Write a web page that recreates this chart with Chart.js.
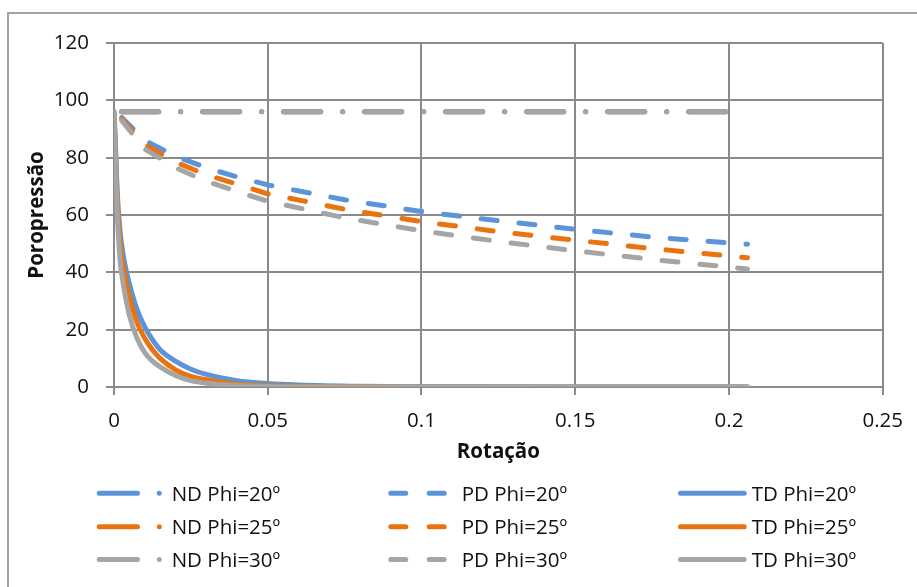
<!DOCTYPE html>
<html><head><meta charset="utf-8">
<script src="https://cdn.jsdelivr.net/npm/chart.js@4"></script>
<style>
html,body{margin:0;padding:0;background:#fff;overflow:hidden;}
#wrap{position:relative;width:917px;height:587px;overflow:hidden;}
#frame{position:absolute;left:7px;top:12px;width:1000px;height:700px;border-left:2px solid #a3a3a3;border-top:2px solid #a3a3a3;}
canvas{position:absolute;left:0;top:0;}
#legend{position:absolute;left:0;top:0;}
</style></head><body>
<div id="wrap"><div id="frame"></div><canvas id="c" width="917" height="587"></canvas><svg id="legend" width="917" height="587" xmlns="http://www.w3.org/2000/svg"></svg></div>
<script>
// ---------- data ----------
const xTickLabels = ['0', '0.05', '0.1', '0.15', '0.2', '0.25'];
const yTickLabels = ['0', '20', '40', '60', '80', '100', '120'];
const xTitle = 'Rotação';
const yTitle = 'Poropressão';

const ndX = [0.0025, 0.2];
const nd20 = [96, 96];
const nd25 = [96, 96];
const nd30 = [96, 96];

const pdX  = [0.0025, 0.01, 0.02, 0.03, 0.04, 0.05, 0.075, 0.1, 0.125, 0.15, 0.175, 0.206];
const pd20 = [94, 86, 80.5, 76.5, 73.3, 70.5, 65.3, 61.2, 58, 55, 52.3, 49.8];
const pd25 = [93.5, 84.5, 78.5, 74, 70.8, 67.4, 62, 57.7, 54.2, 51.2, 48.3, 45.1];
const pd30 = [93, 83, 76.5, 71.8, 68.2, 64.8, 59, 54.5, 50.8, 47.5, 44.5, 41.2];

const tdX  = [0, 0.0005, 0.001, 0.002, 0.003, 0.004, 0.005, 0.0075, 0.01, 0.0125, 0.015, 0.02, 0.025, 0.03, 0.04, 0.05, 0.06, 0.08, 0.1, 0.15, 0.206];
const td20 = [96, 84, 69, 54, 46, 40.5, 36, 27, 21, 16.5, 13, 9, 6.2, 4.4, 2.2, 1.2, 0.7, 0.25, 0.1, 0, 0];
const td25 = [96, 82, 66, 50, 42, 36, 31.5, 22.5, 17, 13, 10, 6, 3.7, 2.5, 1, 0.5, 0.3, 0.1, 0, 0, 0];
const td30 = [96, 80, 62, 44, 36, 30, 25, 17, 12, 9, 7, 4, 2.2, 1.3, 0.5, 0.2, 0.1, 0, 0, 0, 0];

const seriesNames = ['ND Phi=20º', 'PD Phi=20º', 'TD Phi=20º',
                     'ND Phi=25º', 'PD Phi=25º', 'TD Phi=25º',
                     'ND Phi=30º', 'PD Phi=30º', 'TD Phi=30º'];

// ---------- styles ----------
const colors = ['#5b94d8', '#e9730f', '#a5a5a5'];
const FONT = '"Open Sans", "DejaVu Sans", sans-serif';
const FS = 20.5;
const TEXT = '#111';
const GRID = '#8a8a8a';
const dashFor = { ND: [37, 22, 0.01, 22], PD: [16, 22], TD: [] };

const seriesData = [
  [ndX, nd20], [pdX, pd20], [tdX, td20],
  [ndX, nd25], [pdX, pd25], [tdX, td25],
  [ndX, nd30], [pdX, pd30], [tdX, td30]
];

const datasets = seriesData.map(([xs, ys], i) => {
  const type = seriesNames[i].slice(0, 2);
  const col = colors[Math.floor(i / 3)];
  return {
    label: seriesNames[i],
    data: xs.map((x, k) => ({ x: x, y: ys[k] })),
    showLine: true,
    borderColor: col,
    backgroundColor: col,
    borderWidth: 5,
    borderDash: dashFor[type],
    borderCapStyle: 'round',
    borderJoinStyle: 'round',
    pointRadius: 0,
    pointHoverRadius: 0,
    cubicInterpolationMode: type === 'TD' ? 'monotone' : 'default',
    tension: 0,
    fill: false,
    order: seriesNames.length - i
  };
});

Chart.defaults.font.family = FONT;
Chart.defaults.color = TEXT;

new Chart(document.getElementById('c'), {
  type: 'scatter',
  data: { datasets: datasets },
  options: {
    responsive: false,
    animation: false,
    devicePixelRatio: 1,
    layout: { padding: { left: 8, top: 43, right: 28, bottom: 120 } },
    plugins: { legend: { display: false }, tooltip: { enabled: false } },
    scales: {
      x: {
        type: 'linear', min: 0, max: 0.25,
        ticks: { stepSize: 0.05, padding: 14, color: TEXT, font: { size: FS },
                 callback: (v) => xTickLabels[Math.round(v / 0.05)] },
        grid: { color: GRID, lineWidth: 2, tickLength: 8, drawTicks: true },
        border: { color: GRID, width: 2 },
        title: { display: true, text: xTitle, color: TEXT, font: { size: FS, weight: 'bold' }, padding: { top: 0, bottom: 3 } },
        afterFit: (s) => { s.height = 80; }
      },
      y: {
        type: 'linear', min: 0, max: 120,
        ticks: { stepSize: 20, padding: 17, color: TEXT, font: { size: FS },
                 callback: (v) => yTickLabels[Math.round(v / 20)] },
        grid: { color: GRID, lineWidth: 2, tickLength: 8, drawTicks: true },
        border: { color: GRID, width: 2 },
        title: { display: true, text: yTitle, color: TEXT, font: { size: FS, weight: 'bold' }, padding: { top: 16.7, bottom: 0 } },
        afterFit: (s) => { s.width = 106; }
      }
    }
  }
});

// ---------- legend (3 columns, SVG, real text) ----------
const svgNS = 'http://www.w3.org/2000/svg';
const svg = document.getElementById('legend');
const rowY = [493.3, 526.7, 559.5];
const legendLayout = {
  ND: { x1: 99.2, x2: 162, dash: '38.3 21.8 0.01 100', textX: 171.7 },
  PD: { x1: 390.8, x2: 444.2, dash: '15 23.4', textX: 461.7 },
  TD: { x1: 680.5, x2: 744.2, dash: '', textX: 751.7 }
};
seriesNames.forEach((name, i) => {
  const type = name.slice(0, 2);
  const L = legendLayout[type];
  const y = rowY[Math.floor(i / 3)];
  const col = colors[Math.floor(i / 3)];
  const ln = document.createElementNS(svgNS, 'line');
  ln.setAttribute('x1', L.x1); ln.setAttribute('x2', L.x2);
  ln.setAttribute('y1', y); ln.setAttribute('y2', y);
  ln.setAttribute('stroke', col); ln.setAttribute('stroke-width', 5);
  ln.setAttribute('stroke-linecap', 'round');
  if (L.dash) ln.setAttribute('stroke-dasharray', L.dash);
  svg.appendChild(ln);
  const t = document.createElementNS(svgNS, 'text');
  t.setAttribute('x', L.textX); t.setAttribute('y', y + 7.3);
  t.setAttribute('font-family', FONT); t.setAttribute('font-size', FS);
  t.setAttribute('fill', TEXT);
  t.textContent = name;
  svg.appendChild(t);
});
</script>
</body></html>
